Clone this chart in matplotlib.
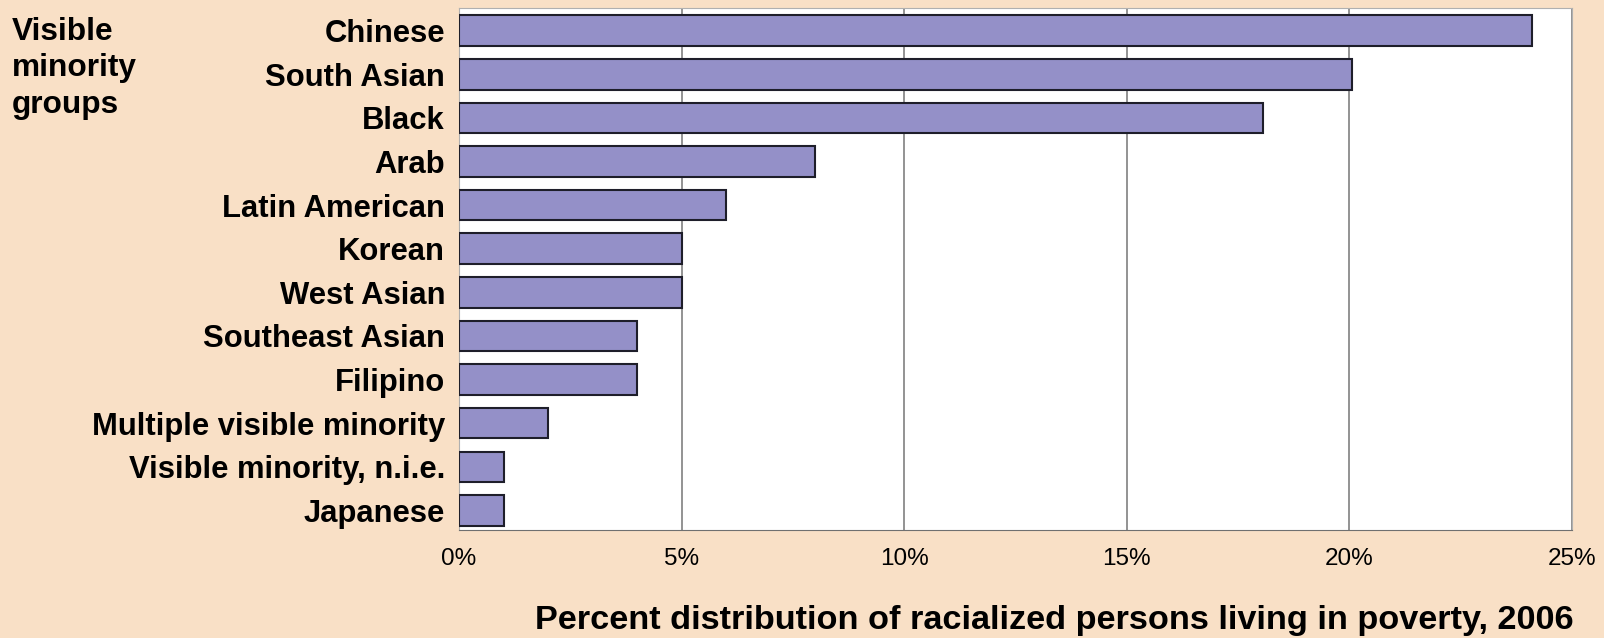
import matplotlib
matplotlib.use("Agg")
import matplotlib.pyplot as plt
from matplotlib.ticker import FuncFormatter

groups = ["Chinese", "South Asian", "Black", "Arab", "Latin American", "Korean",
          "West Asian", "Southeast Asian", "Filipino", "Multiple visible minority",
          "Visible minority, n.i.e.", "Japanese"]
percent = [24.1, 20.05, 18.05, 8, 6, 5, 5, 4, 4, 2, 1, 1]
xticks = [0, 5, 10, 15, 20, 25]

bg = "#F9E0C6"
W, H = 1604, 638
plt.rcParams["font.family"] = ["Liberation Sans", "DejaVu Sans"]

fig = plt.figure(figsize=(W / 100, H / 100), dpi=100, facecolor=bg)
ax = fig.add_axes([459 / W, 1 - 530 / H, (1572 - 459) / W, (530 - 8) / H])
ax.set_facecolor("white")

ypos = list(range(len(groups)))
ax.barh(ypos, percent, height=0.7, color="#9490C8", edgecolor="#1e1e2a",
        linewidth=1.5, zorder=3)

ax.set_xlim(0, 25)
ax.set_ylim(11.45, -0.52)
ax.set_xticks(xticks)
ax.xaxis.set_major_formatter(FuncFormatter(lambda v, p: f"{v:.0f}%"))
ax.set_yticks(ypos)
ax.set_yticklabels(groups, fontsize=22.3, fontweight="bold")
ax.tick_params(axis="y", length=0, pad=10)
ax.tick_params(axis="x", length=0, pad=13, labelsize=17.5)
ax.grid(axis="x", color="#808080", linewidth=1.2, zorder=0)

for side in ["top", "right", "left"]:
    ax.spines[side].set_color("#b0b0b0")
ax.spines["bottom"].set_color("#707070")

fig.text(12 / W, 1 - 17 / H, "Visible\nminority\ngroups", fontsize=22.8,
         fontweight="bold", ha="left", va="top", linespacing=1.28)
fig.text(1054 / W, 1 - 621 / H,
         "Percent distribution of racialized persons living in poverty, 2006",
         fontsize=24.7, fontweight="bold", ha="center", va="center")

fig.savefig("out.png", dpi=100, facecolor=bg)
